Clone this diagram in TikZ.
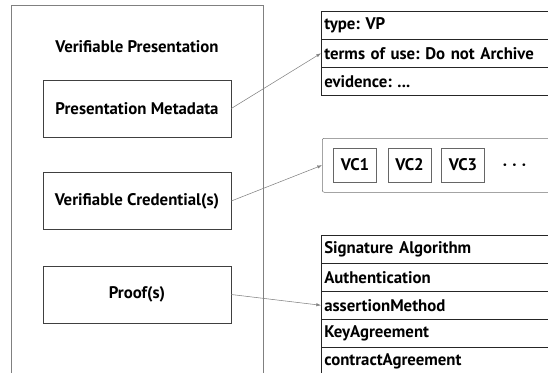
\documentclass[tikz,border=0pt]{standalone}
\usepackage{fontspec}
\setmainfont{PT Sans}
\usetikzlibrary{arrows.meta}

\newcommand{\threedots}{...}
\newcommand{\labelfont}{\fontsize{12.6}{15}\selectfont\bfseries\frenchspacing}

\tikzset{
    part/.style={draw=black!75, minimum width=141pt, minimum height=42.75pt, inner sep=0pt, font=\labelfont},
    row/.style={draw=black!85, anchor=north west, text width=180pt, minimum height=21pt, inner xsep=2.25pt, inner ysep=0pt, align=left, font=\labelfont},
    vcbox/.style={draw=black!60, minimum width=32pt, minimum height=25.5pt, inner sep=0pt, font=\labelfont},
    link/.style={draw=black!50, -{Latex[length=3.5pt,width=2.5pt]}}
}

\begin{document}
\begin{tikzpicture}[x=0.75pt,y=-0.75pt]
    % Picture size (pixels of the reference)
    \useasboundingbox (0,0) rectangle (548,372);
    \clip (0,0) rectangle (548,372);

    % Outer container
    \draw[black!50] (11,5) rectangle (263,390);
    \node[font=\labelfont] (title) at (137,47) {Verifiable Presentation};

    % Parts of the presentation
    \node[part] (meta) at (137,108.5) {Presentation Metadata};
    \node[part] (cred) at (137,201) {Verifiable Credential(s)};
    \node[part] (proof) at (137,294.5) {Proof(s)};

    % Metadata table
    \foreach \txt [count=\i] in {type: VP, terms of use: Do not Archive, evidence: \threedots}
        \node[row] (meta\i) at (321,{11+28*(\i-1)}) {\txt};

    % Credential list
    \node[draw=black!55, rounded corners=1.5pt, anchor=north west, minimum width=210pt, minimum height=40.5pt] (vclist) at (322,138) {};
    \node[vcbox] (vc1) at (355,165) {VC1};
    \node[vcbox] (vc2) at (409.5,165) {VC2};
    \node[vcbox] (vc3) at (463,165) {VC3};
    \node[font=\labelfont] (dots) at (514.5,167) {·\hspace{4pt}·\hspace{4pt}·};

    % Proof table
    \foreach \txt [count=\i] in {Signature Algorithm, Authentication, assertionMethod, KeyAgreement, contractAgreement}
        \node[row] (proof\i) at (321,{235+28*(\i-1)}) {\txt};

    % Links
    \draw[link] (meta.east) -- (meta2.west);
    \draw[link] (cred.east) -- (vclist.west);
    \draw[link] (proof.east) -- (proof3.west);
\end{tikzpicture}
\end{document}
